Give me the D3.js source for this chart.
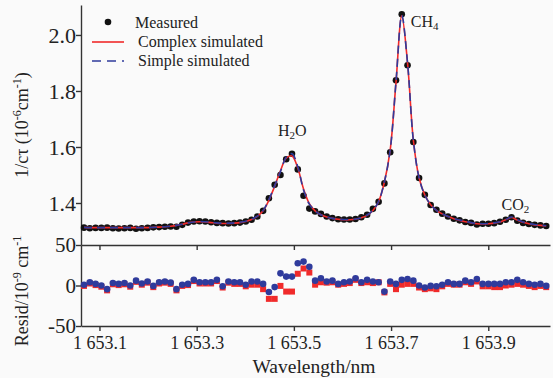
<!DOCTYPE html>
<html>
<head>
<meta charset="utf-8">
<script src="https://cdn.jsdelivr.net/npm/d3@7"></script>
<style>
  body { margin: 0; background: #fafafa; }
  svg { display: block; font-family: "Liberation Serif", "Times New Roman", serif; }
  .axis path, .axis line { stroke: #333; stroke-width: 1.4; }
  .axis text { fill: #222; font-family: "Liberation Serif", serif; }
</style>
</head>
<body>
<svg id="chart" width="553" height="378"></svg>
<script>
// wavelength grid (nm)
const wavelength = [
  1653.0682, 1653.0801, 1653.0920, 1653.1039, 1653.1157, 1653.1276, 1653.1395, 1653.1514, 1653.1633, 1653.1752,
  1653.1871, 1653.1990, 1653.2108, 1653.2227, 1653.2346, 1653.2465, 1653.2584, 1653.2703, 1653.2822, 1653.2941,
  1653.3059, 1653.3178, 1653.3297, 1653.3416, 1653.3535, 1653.3654, 1653.3773, 1653.3891, 1653.4010, 1653.4129,
  1653.4248, 1653.4367, 1653.4486, 1653.4605, 1653.4724, 1653.4842, 1653.4961, 1653.5080, 1653.5199, 1653.5318,
  1653.5437, 1653.5556, 1653.5675, 1653.5793, 1653.5912, 1653.6031, 1653.6150, 1653.6269, 1653.6388, 1653.6507,
  1653.6626, 1653.6744, 1653.6863, 1653.6982, 1653.7101, 1653.7220, 1653.7339, 1653.7458, 1653.7576, 1653.7695,
  1653.7814, 1653.7933, 1653.8052, 1653.8171, 1653.8290, 1653.8409, 1653.8527, 1653.8646, 1653.8765, 1653.8884,
  1653.9003, 1653.9122, 1653.9241, 1653.9360, 1653.9478, 1653.9597, 1653.9716, 1653.9835, 1653.9954, 1654.0073,
  1654.0192
];

// 1/c tau, 10^-6 cm^-1
const measured = [
  1.312, 1.310, 1.311, 1.311, 1.312, 1.310, 1.309, 1.310, 1.311, 1.308,
  1.310, 1.311, 1.313, 1.314, 1.315, 1.316, 1.315, 1.322, 1.330, 1.334,
  1.335, 1.334, 1.331, 1.329, 1.328, 1.327, 1.328, 1.330, 1.334, 1.340,
  1.352, 1.372, 1.417, 1.465, 1.500, 1.556, 1.576, 1.520, 1.426, 1.380,
  1.370, 1.361, 1.352, 1.346, 1.342, 1.341, 1.341, 1.343, 1.349, 1.358,
  1.379, 1.404, 1.470, 1.581, 1.838, 2.074, 1.892, 1.618, 1.489, 1.429,
  1.393, 1.376, 1.362, 1.352, 1.344, 1.338, 1.332, 1.329, 1.323, 1.326,
  1.326, 1.328, 1.333, 1.340, 1.349, 1.337, 1.329, 1.325, 1.322, 1.320,
  1.318
];

const complexSim = [
  1.313, 1.312, 1.312, 1.312, 1.312, 1.312, 1.312, 1.312, 1.312, 1.312,
  1.312, 1.312, 1.313, 1.314, 1.315, 1.317, 1.320, 1.324, 1.329, 1.332,
  1.333, 1.332, 1.330, 1.328, 1.327, 1.327, 1.328, 1.330, 1.334, 1.341,
  1.352, 1.372, 1.410, 1.460, 1.515, 1.560, 1.568, 1.525, 1.450, 1.398,
  1.372, 1.358, 1.350, 1.345, 1.342, 1.340, 1.340, 1.342, 1.347, 1.356,
  1.373, 1.405, 1.475, 1.590, 1.830, 2.068, 1.900, 1.625, 1.490, 1.428,
  1.394, 1.374, 1.361, 1.352, 1.344, 1.338, 1.333, 1.329, 1.326, 1.325,
  1.326, 1.328, 1.332, 1.340, 1.348, 1.339, 1.331, 1.326, 1.322, 1.320,
  1.318
];

const simpleSim = [
  1.313, 1.312, 1.312, 1.312, 1.312, 1.312, 1.312, 1.312, 1.312, 1.312,
  1.312, 1.312, 1.313, 1.314, 1.315, 1.317, 1.320, 1.324, 1.329, 1.332,
  1.334, 1.333, 1.331, 1.329, 1.328, 1.328, 1.329, 1.331, 1.335, 1.342,
  1.353, 1.373, 1.412, 1.462, 1.512, 1.563, 1.576, 1.530, 1.446, 1.396,
  1.372, 1.358, 1.350, 1.345, 1.342, 1.341, 1.341, 1.343, 1.348, 1.357,
  1.374, 1.406, 1.476, 1.590, 1.832, 2.070, 1.900, 1.624, 1.490, 1.428,
  1.394, 1.374, 1.361, 1.352, 1.345, 1.339, 1.334, 1.330, 1.327, 1.326,
  1.327, 1.329, 1.333, 1.341, 1.350, 1.340, 1.332, 1.327, 1.323, 1.321,
  1.319
];

// residuals, 10^-9 cm^-1
const residComplex = [
  -0.5, 2.5, 0.5, -1.5, -6, 1.5, 0.5, 1.5, -1.5, 4.5,
  1, 3.5, -2, 2.5, 3.5, 2, -6, -0.5, 0.5, 5.5,
  2.5, 2.5, 2.5, 5.5, -2.5, 3.5, 2, 2, -1, 1,
  1, -4.5, -16.5, -16.5, -0.5, -7.5, -7.5, 14.5, 21, 16,
  1, 4, 3.5, 4, 1, 2, 3, 7, 3, 4,
  3, 4, -8.5, 2, -4.5, 1, 2, 2, -2.5, -4.5,
  -3.5, -4.5, -1, 2, 1, 1, 4, 2, 5, -1,
  -1, -2, -2, 0, 1, 2, 1, -0.5, -2, -0.5,
  -2
];

const residSimple = [
  1, 4, 2, 0, -4.5, 3, 2, 3, 0, 6,
  2.5, 5, -0.5, 4, 5, 3.5, -4.5, 1, 2, 7,
  4, 4, 4, 7, -1, 5, 4, 4, 1, 5,
  5, 2, -8, -2, 15, 11, 11, 27.5, 29.5, 23,
  6, 9, 5, 6, 2, 4, 5, 9, 4, 7,
  5, 4, -7.5, 5, 2, 7, 8, 6, 0, -2.5,
  -0.5, -1, 1, 4, 2, 2, 6, 4, 8, 2,
  2, 2, 2, 4, 4, 7, 4, 2, 1, 2,
  -0.5
];

const xTicks = [1653.1, 1653.3, 1653.5, 1653.7, 1653.9];
const xTickLabels = ['1 653.1', '1 653.3', '1 653.5', '1 653.7', '1 653.9'];
const yTicksTop = [1.4, 1.6, 1.8, 2.0];
const yTicksResid = [-50, 0, 50];

const svg = d3.select('#chart');
const left = 81, right = 550;
const topY = 5, midY = 245, bottomY = 326;

const x = d3.scaleLinear().domain([1653.062, 1654.027]).range([left, right]);
const yTop = d3.scaleLinear().domain([1.25, 2.107]).range([midY, topY]);
const yRes = d3.scaleLinear().domain([-50, 50]).range([bottomY, midY]);

const red = '#f02a2a', blue = '#2f3b9c';

// axes
svg.append('g').attr('class', 'axis')
    .attr('transform', 'translate(0,' + midY + ')')
    .call(d3.axisBottom(x).tickValues(xTicks).tickFormat('').tickSize(5).tickSizeOuter(0));

svg.append('g').attr('class', 'axis')
    .attr('transform', 'translate(0,' + bottomY + ')')
    .call(d3.axisBottom(x).tickValues(xTicks).tickFormat((d, i) => xTickLabels[i]).tickSize(5).tickSizeOuter(0))
    .selectAll('text').attr('font-size', 18).attr('dy', '0.82em');

svg.append('g').attr('class', 'axis')
    .attr('transform', 'translate(' + left + ',0)')
    .call(d3.axisLeft(yTop).tickValues(yTicksTop).tickFormat(d3.format('.1f')).tickSize(5).tickSizeOuter(0))
    .selectAll('text').attr('font-size', 22).attr('x', -5);

svg.append('g').attr('class', 'axis')
    .attr('transform', 'translate(' + left + ',0)')
    .call(d3.axisLeft(yRes).tickValues(yTicksResid).tickFormat(d => d < 0 ? '-' + Math.abs(d) : d).tickSize(5).tickSizeOuter(0))
    .selectAll('text').attr('font-size', 21).attr('x', -5);

// measured points
svg.append('g').selectAll('circle')
    .data(measured)
    .join('circle')
    .attr('cx', (d, i) => x(wavelength[i]))
    .attr('cy', d => yTop(d))
    .attr('r', 3.3)
    .attr('fill', '#111');

const line = (arr) => d3.line()
    .x((d, i) => x(wavelength[i]))
    .y(d => yTop(d))
    .curve(d3.curveCatmullRom.alpha(0.5))(arr);

svg.append('path').attr('d', line(complexSim))
    .attr('fill', 'none').attr('stroke', red).attr('stroke-width', 1.6);
svg.append('path').attr('d', line(simpleSim))
    .attr('fill', 'none').attr('stroke', blue).attr('stroke-width', 1.6)
    .attr('stroke-dasharray', '8,5');

// residuals
svg.append('g').selectAll('rect')
    .data(residComplex)
    .join('rect')
    .attr('x', (d, i) => x(wavelength[i]) - 3)
    .attr('y', d => yRes(d) - 3)
    .attr('width', 6).attr('height', 6)
    .attr('fill', red);

svg.append('g').selectAll('circle')
    .data(residSimple)
    .join('circle')
    .attr('cx', (d, i) => x(wavelength[i]))
    .attr('cy', d => yRes(d))
    .attr('r', 3.3)
    .attr('fill', blue);

// peak labels
function chem(tx, ty, parts) {
    const t = svg.append('text').attr('x', tx).attr('y', ty)
        .attr('font-size', 16).attr('fill', '#222');
    parts.forEach(p => {
        const s = t.append('tspan').text(p[0]);
        if (p[1]) s.attr('font-size', 11).attr('dy', 3);
        else if (p[2]) s.attr('dy', -3);
    });
    return t;
}
chem(x(wavelength[36]) - 14, yTop(measured[36]) - 18, [['H'], ['2', 1], ['O', 0, 1]]);
chem(x(wavelength[55]) + 9, yTop(measured[55]) + 13, [['CH'], ['4', 1]]);
chem(x(wavelength[74]) - 10, yTop(measured[74]) - 7, [['CO'], ['2', 1]]);

// legend
const lg = svg.append('g').attr('font-size', 16).attr('fill', '#222');
lg.append('circle').attr('cx', 108).attr('cy', 22).attr('r', 3.3).attr('fill', '#111');
lg.append('text').attr('x', 135).attr('y', 28).text('Measured');
lg.append('line').attr('x1', 92).attr('x2', 124).attr('y1', 42).attr('y2', 42)
    .attr('stroke', red).attr('stroke-width', 1.6);
lg.append('text').attr('x', 138).attr('y', 47).text('Complex simulated');
lg.append('line').attr('x1', 92).attr('x2', 124).attr('y1', 61).attr('y2', 61)
    .attr('stroke', blue).attr('stroke-width', 1.6).attr('stroke-dasharray', '9,6');
lg.append('text').attr('x', 138).attr('y', 66).text('Simple simulated');

// axis titles
const t1 = svg.append('text')
    .attr('transform', 'translate(28,125) rotate(-90)')
    .attr('text-anchor', 'middle').attr('font-size', 18).attr('fill', '#222');
t1.append('tspan').text('1/cτ (10');
t1.append('tspan').text('-6').attr('font-size', 12).attr('dy', -7);
t1.append('tspan').text('cm').attr('dy', 7);
t1.append('tspan').text('-1').attr('font-size', 12).attr('dy', -7);
t1.append('tspan').text(')').attr('dy', 7);

const t2 = svg.append('text')
    .attr('transform', 'translate(28,291) rotate(-90)')
    .attr('text-anchor', 'middle').attr('font-size', 18).attr('fill', '#222');
t2.append('tspan').text('Resid/10');
t2.append('tspan').text('-9').attr('font-size', 12).attr('dy', -7);
t2.append('tspan').text(' cm').attr('dy', 7);
t2.append('tspan').text('-1').attr('font-size', 12).attr('dy', -7);

svg.append('text')
    .attr('x', 314).attr('y', 373)
    .attr('text-anchor', 'middle').attr('font-size', 19.5).attr('fill', '#222')
    .text('Wavelength/nm');
</script>
</body>
</html>
